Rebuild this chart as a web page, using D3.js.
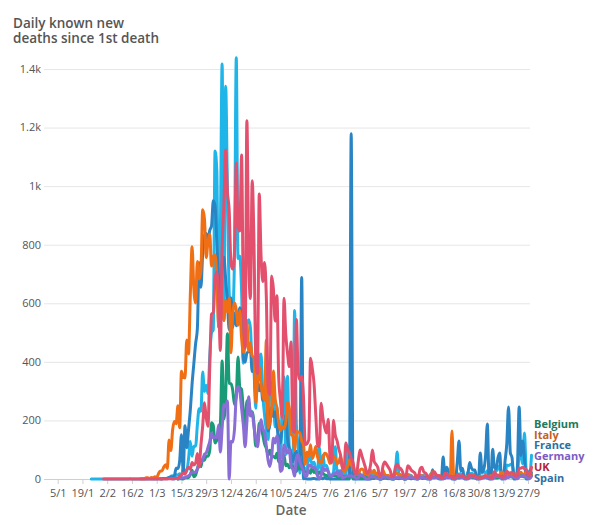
<!DOCTYPE html>
<html><head><meta charset="utf-8">
<script src="https://cdn.jsdelivr.net/npm/d3@7"></script>
<style>
body{margin:0;background:#fff}
svg text{font-family:"Open Sans",sans-serif}
</style>
</head><body>
<svg id="chart" width="600" height="525"></svg>
<script>
// ---------------- data ----------------
const countries   = ["Belgium", "Italy", "France", "Germany", "UK", "Spain"];
const lineColors  = ["#1a9b78", "#f06f14", "#1fb5e8", "#8b6dd6", "#e2506e", "#2a84c4"];
const labelColors = ["#1d7a5c", "#c8601e", "#2d6f9f", "#7b5cc4", "#b3233a", "#2f6fa3"];
const startDates  = ["2020-03-11", "2020-02-21", "2020-01-24", "2020-03-09", "2020-01-31", "2020-03-03"];
const drawOrder   = ["France", "Spain", "Italy", "Belgium", "Germany", "UK"];

const belgium = [
 1,2,0,1,1,0,4,4,5,16,30,8,13,34,56,42,69,64,78,78,98,
 192,183,123,132,140,185,403,205,283,496,327,325,303,254,283,417,313,306,230,170,266,264,228,230,190,113,120,190,180,150,
 120,105,82,98,76,77,72,88,58,60,56,80,45,50,38,46,42,28,26,42,34,41,28,24,23,28,20,42,22,25,12,
 25,18,20,14,12,9,7,10,12,11,8,6,5,4,9,6,5,7,8,4,3,5,6,3,4,5,7,3,2,4,
 3,2,4,3,1,0,2,3,4,2,1,1,0,2,3,1,2,4,0,1,3,2,1,2,1,3,2,4,5,3,4,
 5,3,6,5,4,7,5,3,6,8,4,6,9,5,7,6,8,5,4,6,7,5,3,6,4,5,4,3,2,4,3,
 3,4,5,3,2,4,6,5,3,4,5,6,4,7,5,6,8,7,5,9,10,8,11,9,7,10,12,8,11];

const italy = [
 1,1,1,4,4,1,5,4,8,
 5,18,27,28,41,49,36,133,97,168,196,189,250,175,368,349,345,475,427,627,793,651,601,743,683,712,919,889,756,812,837,
 727,760,766,681,525,636,604,542,610,570,619,431,566,602,578,525,575,482,433,454,534,437,464,420,415,260,333,382,323,285,
 269,474,174,195,236,369,274,243,194,165,179,172,195,262,242,153,145,99,162,161,156,130,119,50,92,78,117,70,87,111,75,
 60,55,71,88,85,72,53,65,79,71,53,56,78,44,26,34,43,66,47,49,24,23,18,30,34,30,8,24,6,23,
 21,30,15,21,7,8,30,15,12,12,7,9,13,17,20,11,13,11,3,13,15,9,10,5,4,5,5,11,11,6,3,
 5,5,8,25,10,6,3,12,4,2,2,6,10,7,164,4,7,4,3,5,7,3,9,4,7,5,13,9,1,4,9,
 6,8,10,6,10,11,7,12,10,14,10,24,20,9,15,14,17,13,10,18,14,14,23,15,17,24,20,19,17];

const france = [
 0,0,0,0,0,0,0,0,
 0,0,0,0,0,0,0,0,0,0,0,0,0,0,1,0,0,0,0,0,0,0,0,0,0,1,0,0,0,
 0,1,1,1,2,0,2,3,9,11,3,15,13,18,12,36,21,27,69,128,78,112,112,186,240,231,365,299,319,292,418,
 499,509,1120,1053,518,833,1417,541,1341,987,635,561,574,762,1438,753,761,642,395,547,531,544,516,389,369,242,437,367,427,289,
 218,166,135,306,330,278,178,243,80,70,263,348,83,351,104,96,35,575,186,110,20,65,43,35,30,83,66,52,57,31,31,
 107,31,81,44,46,27,13,13,23,110,27,28,24,29,10,9,111,28,14,24,10,1,24,14,11,15,29,14,14,30,
 16,13,17,14,4,3,21,14,11,9,5,3,4,25,92,18,14,6,4,17,15,14,11,5,4,3,14,14,11,13,6,
 5,4,18,12,10,12,6,4,5,18,18,17,11,6,4,5,14,17,17,19,8,5,6,24,15,20,17,9,6,7,24,
 20,26,20,28,10,7,8,25,27,34,46,18,10,12,48,46,49,52,20,14,15,82,78,52,157,30,22,18,81];

const germany = [
 2,0,1,3,0,2,4,4,4,8,11,16,23,23,24,35,49,55,66,84,89,108,128,
 156,140,145,142,184,92,173,254,246,266,0,129,126,170,285,315,299,242,184,110,194,281,215,227,179,140,110,163,202,173,
 156,113,64,43,76,139,123,147,118,26,33,116,101,89,101,44,33,10,72,83,57,42,26,10,11,47,47,39,39,33,10,
 1,11,40,29,34,24,9,10,18,18,26,10,28,3,6,9,11,10,11,8,6,2,3,17,11,9,3,0,0,12,
 6,8,5,3,1,0,12,6,7,4,2,1,0,6,4,5,3,2,1,0,5,4,6,3,2,0,1,6,5,4,3,
 2,1,0,6,4,5,3,2,1,0,5,6,4,5,3,1,0,6,7,5,4,3,1,0,5,6,8,4,3,1,0,
 4,6,5,7,3,1,0,6,8,9,6,4,2,0,5,6,10,8,6,3,1,7,9,12,10,6,2,1,10];

const uk = [
 0,
 0,0,0,0,0,0,0,0,0,0,0,0,0,0,0,0,0,0,0,0,0,0,0,0,0,0,0,0,0,
 0,0,0,0,0,1,0,1,1,1,2,2,1,10,14,20,16,33,40,33,56,48,54,87,41,115,181,260,209,180,381,
 563,569,684,708,621,439,786,938,1123,980,917,737,717,778,1078,861,847,1106,596,449,1223,763,616,1018,813,413,360,973,765,674,
 739,621,315,288,693,649,539,626,346,268,210,617,494,428,384,468,170,160,545,363,338,351,282,118,121,134,412,377,324,215,113,
 111,259,209,176,157,204,77,55,201,150,131,102,81,36,38,123,100,90,70,58,23,15,60,99,80,60,40,20,25,50,
 99,60,50,40,15,12,45,58,50,40,30,10,12,40,50,40,35,25,8,10,45,40,30,25,20,5,8,35,40,25,20,
 12,5,5,20,25,15,12,10,3,5,20,18,12,10,8,3,5,15,12,10,12,8,2,4,15,12,10,10,8,3,2,
 5,10,12,10,8,3,5,25,15,12,10,8,5,12,27,20,21,22,18,10,12,37,37,40,35,32,15,12,40];

const spain = [
 1,0,2,2,3,5,7,7,12,37,36,63,151,21,182,107,169,235,324,394,462,514,738,655,769,832,838,812,849,
 864,950,932,809,674,637,743,757,683,605,510,619,517,567,523,551,585,565,410,399,430,435,440,367,378,288,331,301,325,268,
 281,276,164,185,244,213,229,179,143,123,176,184,217,138,104,87,59,83,95,48,56,688,1,2,0,0,0,1,2,0,0,
 0,2,1,5,1,1,0,0,0,0,0,0,0,0,0,0,0,0,1179,0,0,0,0,0,0,0,0,0,0,0,
 3,4,9,3,0,0,3,5,2,1,3,0,0,4,2,4,3,5,0,0,12,3,2,2,2,0,0,10,2,3,4,
 0,0,0,32,5,13,5,0,0,75,13,40,26,16,0,0,0,58,130,28,37,0,0,16,56,38,30,31,0,0,89,
 24,34,80,188,0,0,102,40,34,72,89,0,0,60,120,246,90,72,0,0,40,246,80,130,70,0,0,30,20];

const seriesValues = [belgium, italy, france, germany, uk, spain];

const yTickValues = [0, 200, 400, 600, 800, 1000, 1200, 1400];
const xTickLabels = ["5/1","19/1","2/2","16/2","1/3","15/3","29/3","12/4","26/4","10/5","24/5","7/6","21/6","5/7","19/7","2/8","16/8","30/8","13/9","27/9"];
const titleLines = ["Daily known new", "deaths since 1st death"];
const xAxisTitle = "Date";

// ---------------- chart ----------------
const svg = d3.select("#chart");
const parseISO = d3.timeParse("%Y-%m-%d");
const parseDM = s => { const [d, m] = s.split("/").map(Number); return new Date(2020, m - 1, d); };
const xTickDates = xTickLabels.map(parseDM);

const x = d3.scaleTime()
  .domain([xTickDates[0], xTickDates[xTickDates.length - 1]])
  .range([57.7, 528]);
const y = d3.scaleLinear().domain([0, 1400]).range([479, 69]);

const plotLeft = 44, plotRight = 530;

// title
svg.append("text").attr("x", 13).attr("y", 28)
  .attr("font-size", 13.5).attr("font-weight", 600).attr("fill", "#555")
  .selectAll("tspan").data(titleLines).join("tspan")
  .attr("x", 13).attr("dy", (d, i) => i ? 15 : 0).text(d => d);

// grid + y labels
const yFmt = v => v >= 1000 ? (v / 1000) + "k" : String(v);
const gy = svg.append("g");
gy.selectAll("line").data(yTickValues).join("line")
  .attr("x1", plotLeft).attr("x2", plotRight)
  .attr("y1", d => y(d) + 0.5).attr("y2", d => y(d) + 0.5)
  .attr("stroke", d => d === 0 ? "#cfcfcf" : "#e6e6e6").attr("stroke-width", 1);
gy.selectAll("text").data(yTickValues).join("text")
  .attr("x", 41).attr("y", d => y(d)).attr("dy", "0.35em")
  .attr("text-anchor", "end").attr("font-size", 11).attr("fill", "#555")
  .text(yFmt);

// x axis
const xAxis = d3.axisBottom(x).tickValues(xTickDates)
  .tickFormat((d, i) => xTickLabels[i]).tickSize(4).tickSizeOuter(0);
const gx = svg.append("g").attr("transform", "translate(0,480)").call(xAxis);
gx.select(".domain").remove();
gx.selectAll(".tick line").attr("stroke", "#cfcfcf");
gx.selectAll(".tick text").attr("font-size", 11).attr("fill", "#555")
  .attr("font-family", "'Open Sans', sans-serif").attr("dy", "0.9em");

svg.append("text").attr("x", 291).attr("y", 515).attr("text-anchor", "middle")
  .attr("font-size", 13.5).attr("font-weight", 600).attr("fill", "#666").text(xAxisTitle);

// lines
const series = countries.map((c, i) => {
  const s = parseISO(startDates[i]);
  return { name: c, color: lineColors[i],
    points: seriesValues[i].map((v, k) => ({ date: d3.timeDay.offset(s, k), value: v })) };
});
const line = d3.line().x(d => x(d.date)).y(d => y(d.value)).curve(d3.curveMonotoneX);
const ordered = drawOrder.map(n => series.find(s => s.name === n));
svg.append("g").selectAll("path").data(ordered).join("path")
  .attr("d", d => line(d.points))
  .attr("fill", "none").attr("stroke", d => d.color)
  .attr("stroke-width", 3).attr("stroke-linejoin", "round").attr("stroke-linecap", "round");

// legend labels (tightly stacked as in the reference)
svg.append("g").selectAll("text").data(countries).join("text")
  .attr("x", 534).attr("y", (d, i) => 424 + i * 10.8).attr("dy", "0.35em")
  .attr("font-size", 11).attr("font-weight", 700)
  .attr("fill", (d, i) => labelColors[i]).text(d => d);
</script>
</body></html>
